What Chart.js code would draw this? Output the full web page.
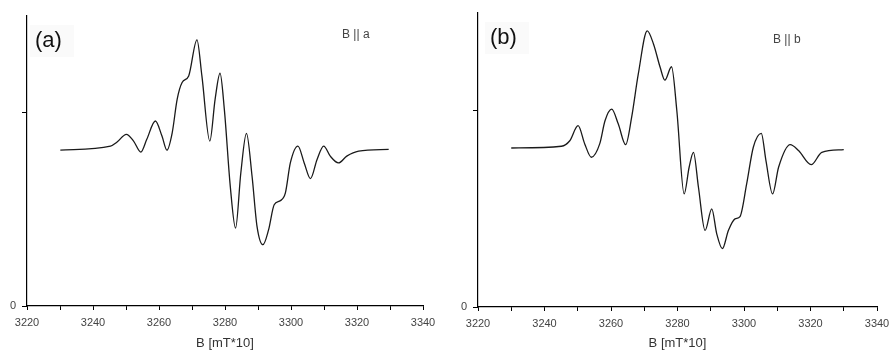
<!DOCTYPE html>
<html>
<head>
<meta charset="utf-8">
<script src="https://cdn.jsdelivr.net/npm/chart.js@4.4.1/dist/chart.umd.min.js"></script>
<style>
  html, body { margin: 0; padding: 0; background: #fff; }
  .wrap { display: flex; width: 890px; height: 354px; }
  canvas { display: block; }
</style>
</head>
<body>
<div class="wrap">
  <canvas id="chartA" width="445" height="354"></canvas>
  <canvas id="chartB" width="445" height="354"></canvas>
</div>
<script>
// field values [mT*10] and EPR signal (arbitrary units)
var fieldA  = [3230.1, 3245.3, 3247.3, 3250.1, 3252.3, 3254.5, 3256.3, 3258.9, 3260.9, 3262.4,
               3264.0, 3265.5, 3267.0, 3269.0, 3271.5, 3273.0, 3275.4, 3277.0, 3278.5, 3279.8,
               3281.6, 3283.2, 3284.8, 3286.5, 3288.2, 3289.7, 3291.5, 3293.2, 3294.9, 3296.8,
               3298.3, 3299.8, 3302.1, 3304.0, 3305.9, 3307.9, 3309.9, 3311.9, 3314.4, 3316.9,
               3320.5, 3329.6];
var signalA = [0.806, 0.827, 0.848, 0.888, 0.853, 0.796, 0.862, 0.957, 0.879, 0.806,
               0.896, 1.069, 1.156, 1.190, 1.377, 1.190, 0.853, 1.069, 1.204, 1.017,
               0.619, 0.403, 0.689, 0.893, 0.671, 0.412, 0.317, 0.394, 0.524, 0.545,
               0.585, 0.740, 0.827, 0.740, 0.659, 0.758, 0.827, 0.775, 0.740, 0.775,
               0.801, 0.810];

var fieldB  = [3230.0, 3245.1, 3247.6, 3250.1, 3252.1, 3254.1, 3256.6, 3258.2, 3260.2, 3262.2,
               3264.4, 3266.2, 3268.2, 3270.9, 3272.8, 3274.8, 3276.2, 3278.2, 3279.8, 3282.0,
               3283.5, 3284.8, 3286.3, 3288.3, 3290.3, 3291.8, 3293.5, 3295.3, 3297.3, 3298.8,
               3300.8, 3302.8, 3305.2, 3306.6, 3308.6, 3310.4, 3313.9, 3316.4, 3320.2, 3323.4,
               3330.0];
var signalB = [0.810, 0.819, 0.847, 0.924, 0.831, 0.763, 0.831, 0.949, 1.008, 0.932,
               0.827, 0.966, 1.186, 1.407, 1.339, 1.220, 1.156, 1.224, 1.000, 0.576,
               0.712, 0.788, 0.610, 0.390, 0.500, 0.373, 0.297, 0.390, 0.449, 0.461,
               0.627, 0.814, 0.885, 0.746, 0.576, 0.712, 0.827, 0.797, 0.725, 0.788,
               0.802];

var xMin = 3220, xMax = 3340;
var xStep = 10;          // tick marks every 10
var xLabelEvery = 20;    // labels every 20
var yTicks = [0, 1];
var yLabels = ['0', ''];

function points(xs, ys) {
  return xs.map(function (x, i) { return { x: x, y: ys[i] }; });
}

// draws the panel letter and the field-direction note
var notes = {
  id: 'notes',
  afterDraw: function (chart, args, opts) {
    var c = chart.ctx;
    c.save();
    c.fillStyle = '#fafafa';
    c.fillRect(opts.lx - 5, opts.ly - 16, 44, 32);
    c.fillStyle = '#111';
    c.font = '22px "Liberation Sans", Arial, sans-serif';
    c.textBaseline = 'middle';
    c.fillText(opts.letter, opts.lx, opts.ly);
    c.fillStyle = '#444';
    c.font = '12px "Liberation Sans", Arial, sans-serif';
    c.fillText(opts.note, opts.nx, opts.ny);
    c.restore();
  }
};

function makeChart(id, xs, ys, cfg) {
  return new Chart(document.getElementById(id), {
    type: 'line',
    data: {
      datasets: [{
        data: points(xs, ys),
        borderColor: '#1a1a1a',
        borderWidth: 1.3,
        pointRadius: 0,
        cubicInterpolationMode: 'monotone',
        fill: false
      }]
    },
    options: {
      responsive: false,
      animation: false,
      layout: { padding: { left: 0, right: cfg.padRight, top: cfg.padTop, bottom: 0 } },
      plugins: {
        legend: { display: false },
        tooltip: { enabled: false },
        notes: cfg.notes
      },
      scales: {
        x: {
          type: 'linear',
          min: xMin,
          max: xMax,
          afterFit: function (s) { s.height = cfg.xHeight; s.paddingLeft = 0; s.paddingRight = 0; },
          border: { color: '#000', width: 1.2 },
          grid: { drawOnChartArea: false, tickLength: 4, color: '#000' },
          ticks: {
            stepSize: xStep,
            padding: 6,
            color: '#444',
            font: { family: '"Liberation Sans", Arial, sans-serif', size: 11 },
            autoSkip: false,
            maxRotation: 0,
            callback: function (v) { return v % xLabelEvery === 0 ? String(v) : ''; }
          },
          title: {
            display: true,
            text: 'B [mT*10]',
            color: '#333',
            font: { family: '"Liberation Sans", Arial, sans-serif', size: 13 },
            padding: { top: 0, bottom: 3 }
          }
        },
        y: {
          min: 0,
          max: 1.5,
          afterFit: function (s) { s.width = cfg.yWidth; },
          afterBuildTicks: function (s) { s.ticks = yTicks.map(function (v) { return { value: v }; }); },
          border: { color: '#000', width: 1.2 },
          grid: { drawOnChartArea: false, tickLength: 5, color: '#000' },
          ticks: {
            padding: 6,
            color: '#444',
            font: { family: '"Liberation Sans", Arial, sans-serif', size: 11 },
            callback: function (v, i) { return yLabels[i]; }
          }
        }
      }
    },
    plugins: [notes]
  });
}

makeChart('chartA', fieldA, signalA, {
  padRight: 22, padTop: 16, xHeight: 48, yWidth: 27,
  notes: { letter: '(a)', lx: 35, ly: 41, note: 'B || a', nx: 342, ny: 35 }
});

makeChart('chartB', fieldB, signalB, {
  padRight: 13, padTop: 12, xHeight: 47, yWidth: 33,
  notes: { letter: '(b)', lx: 45, ly: 38, note: 'B || b', nx: 328, ny: 40 }
});
</script>
</body>
</html>
